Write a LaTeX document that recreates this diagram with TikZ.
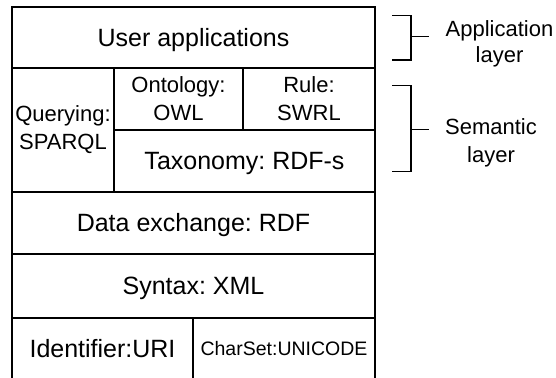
\documentclass[tikz,border=0pt]{standalone}
\usepackage{fontspec}
\setmainfont{Liberation Sans}
\frenchspacing
\begin{document}
\begin{tikzpicture}[x=1pt,y=-1pt,
  cell/.style={draw, line width=2pt, inner sep=0pt, anchor=center},
  big/.style={font=\fontsize{25}{28}\selectfont, text height=17.9pt, text depth=0pt},
  mid/.style={font=\fontsize{22}{28}\selectfont, align=center},
  small/.style={font=\fontsize{19.5}{23}\selectfont, text height=14pt, text depth=0pt},
  brace/.style={line width=1.3pt},
  side/.style={font=\fontsize{22}{27}\selectfont, align=center}]
\useasboundingbox (0,0) rectangle (556,377);

% layer stack
\node[cell, big, minimum width=363pt, minimum height=61pt] (user) at (193.5,37.5) {User applications};
\node[cell, mid, minimum width=102pt, minimum height=124pt] (query) at (63,130) {Querying:\\SPARQL};
\node[cell, mid, minimum width=129pt, minimum height=62pt] (onto) at (178.5,99) {Ontology:\\OWL};
\node[cell, mid, minimum width=132pt, minimum height=62pt] (rule) at (309,99) {Rule:\\SWRL};
\node[cell, big, minimum width=261pt, minimum height=62pt] (taxo) at (244.5,161) {Taxonomy: RDF-s};
\node[cell, big, minimum width=363pt, minimum height=62pt] (rdf) at (193.5,223) {Data exchange: RDF};
\node[cell, big, minimum width=363pt, minimum height=64pt] (xml) at (193.5,286) {Syntax: XML};
\node[cell, big, minimum width=181pt, minimum height=61pt] (uri) at (102.5,348.5) {Identifier:URI};
\node[cell, small, minimum width=182pt, minimum height=61pt] (uni) at (284,348.5) {CharSet:UNICODE};

% layer brackets
\coordinate (a1) at (392,15.7);
\coordinate (a2) at (392,60);
\coordinate (am) at (411,36.7);
\coordinate (s1) at (392,85.7);
\coordinate (s2) at (392,171.7);
\coordinate (sm) at (411,129.3);
\draw[brace] (a1) -| (am) |- (a2);
\draw[brace] (am) -- ++(18,0);
\draw[brace] (s1) -| (sm) |- (s2);
\draw[brace] (sm) -- ++(18,0);

\node[side, font=\fontsize{22}{26}\selectfont] (applbl) at (499.5,44.3) {Application\\layer};
\node[side, font=\fontsize{22}{28}\selectfont] (semlbl) at (491,143.3) {Semantic\\layer};
\end{tikzpicture}
\end{document}
